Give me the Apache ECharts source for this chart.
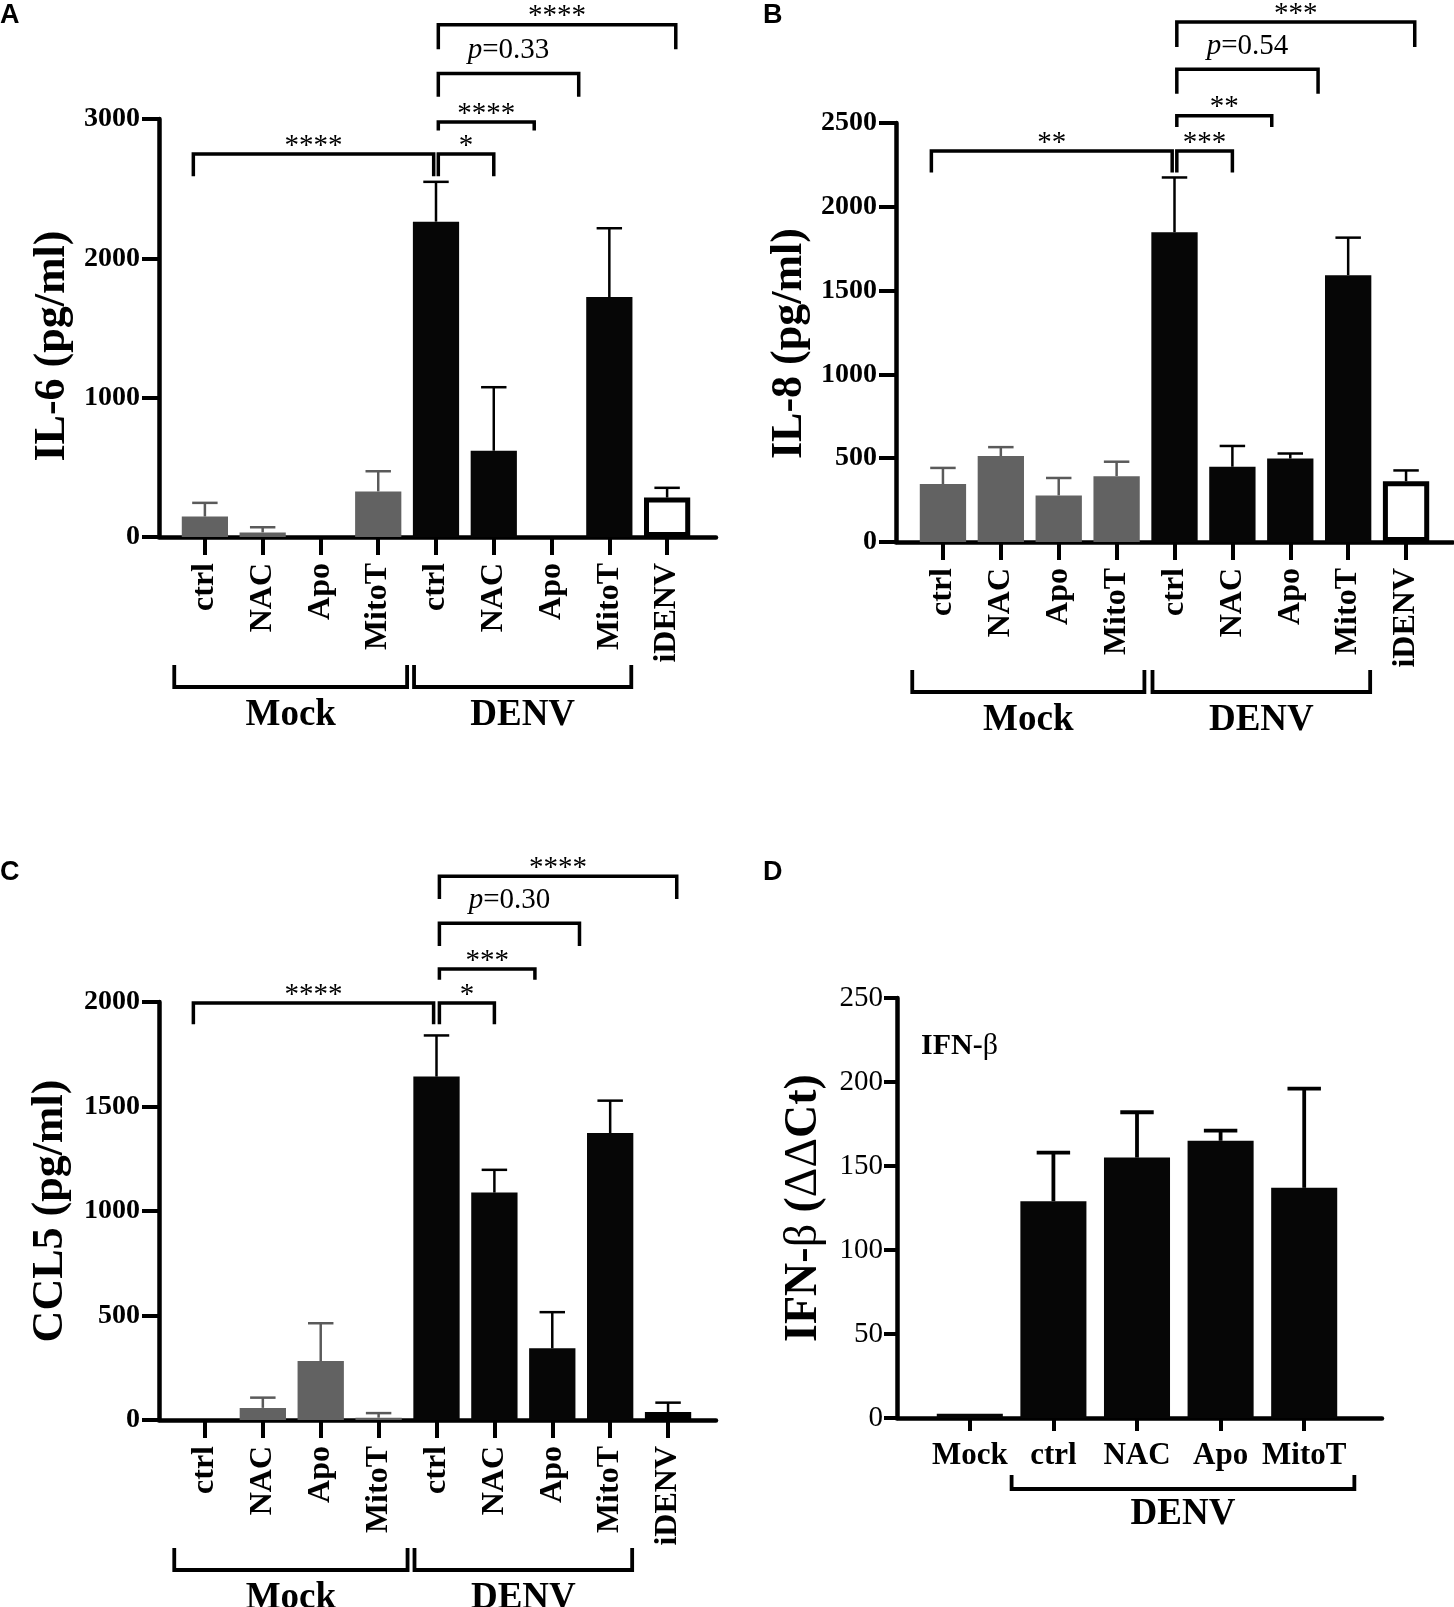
<!DOCTYPE html>
<html>
<head>
<meta charset="utf-8">
<title>Cytokine secretion, DENV infection and ROS inhibitors</title>
<script src="https://cdn.jsdelivr.net/npm/echarts@6/dist/echarts.min.js"></script>
<style>
html, body { margin: 0; padding: 0; background: #fff; }
#chart { width: 1454px; height: 1607px; }
</style>
</head>
<body>
<div id="chart"></div>
<script>
// ---- data ----
var cytoCategories = ['ctrl', 'NAC', 'Apo', 'MitoT', 'ctrl', 'NAC', 'Apo', 'MitoT', 'iDENV'];
var cytoGroups = ['mock', 'mock', 'mock', 'mock', 'denv', 'denv', 'denv', 'denv', 'idenv'];

var il6Mean  = [147, 33, 0, 327, 2263, 619, 0, 1722, 283];
var il6Upper = [245, 70, 0, 472, 2549, 1075, 0, 2216, 353];

var il8Mean  = [346, 513, 278, 393, 1848, 449, 498, 1592, 363];
var il8Upper = [442, 566, 382, 479, 2175, 573, 528, 1816, 427];

var ccl5Mean  = [0, 58, 282, 11, 1643, 1088, 343, 1373, 38];
var ccl5Upper = [0, 107, 463, 33, 1840, 1197, 516, 1528, 83];

var ifnCategories = ['Mock', 'ctrl', 'NAC', 'Apo', 'MitoT'];
var ifnGroups = ['denv', 'denv', 'denv', 'denv', 'denv'];
var ifnMean  = [2.5, 129, 155, 165, 137];
var ifnUpper = [2.5, 158, 182, 171, 196];

// significance brackets: [from, to (category positions), bar level, leg end, label]
var il6Sig = [
  [-0.2, 3.96, 2749, 2590, '****'],
  [4.04, 5.0, 2749, 2590, '*'],
  [4.04, 5.7, 2979, 2918, '****'],
  [4.04, 6.47, 3326, 3159, 'p=0.33'],
  [4.04, 8.15, 3677, 3500, '****']
];
var il8Sig = [
  [-0.2, 3.96, 2333, 2205, '**'],
  [4.04, 5.0, 2333, 2205, '***'],
  [4.04, 5.68, 2543, 2476, '**'],
  [4.04, 6.48, 2820, 2675, 'p=0.54'],
  [4.04, 8.15, 3103, 2953, '***']
];
var ccl5Sig = [
  [-0.2, 3.95, 1995, 1894, '****'],
  [4.05, 5.0, 1995, 1894, '*'],
  [4.05, 5.7, 2158, 2106, '***'],
  [4.05, 6.47, 2377, 2268, 'p=0.30'],
  [4.05, 8.15, 2602, 2493, '****']
];

// treatment groups under the axis: [name, first category, last category]
var cytoSpans = [['Mock', 0, 3], ['DENV', 4, 7]];
var ifnSpans = [['DENV', 1, 4]];

// ---- style ----
var SERIF = '"Liberation Serif", "Times New Roman", serif';
var GREY = '#626262';
var GREY_ERR = '#5a5a5a';
var BLACK = '#060606';

var panels = [
  { letter: 'A', lx: 0, ly: 2,
    frame: { left: 159, top: 119, width: 557, height: 418 }, bars: { left: 176, width: 520 },
    yMax: 3000, yStep: 1000, yName: 'IL-6 (pg/ml)', nameGap: 84, nameSize: 44, nameShift: 36,
    cats: cytoCategories, groups: cytoGroups, mean: il6Mean, upper: il6Upper, sig: il6Sig,
    spans: cytoSpans, pads: [[-0.53, 0.5], [-0.38, 0.38]], rotate: true },
  { letter: 'B', lx: 763, ly: 2,
    frame: { left: 896, top: 123, width: 557, height: 419 }, bars: { left: 914, width: 521 },
    yMax: 2500, yStep: 500, yName: 'IL-8 (pg/ml)', nameGap: 84, nameSize: 44, nameShift: 22,
    cats: cytoCategories, groups: cytoGroups, mean: il8Mean, upper: il8Upper, sig: il8Sig,
    spans: cytoSpans, pads: [[-0.53, 0.48], [-0.38, 0.38]], rotate: true },
  { letter: 'C', lx: 0, ly: 859,
    frame: { left: 159, top: 1002, width: 557, height: 418 }, bars: { left: 176, width: 521 },
    yMax: 2000, yStep: 500, yName: 'CCL5 (pg/ml)', nameGap: 86, nameSize: 44, nameShift: 0,
    cats: cytoCategories, groups: cytoGroups, mean: ccl5Mean, upper: ccl5Upper, sig: ccl5Sig,
    spans: cytoSpans, pads: [[-0.53, 0.5], [-0.38, 0.38]], rotate: true },
  { letter: 'D', lx: 763, ly: 859,
    frame: { left: 897, top: 998, width: 485, height: 420 }, bars: { left: 928, width: 418 },
    yMax: 250, yStep: 50, yName: 'IFN-{r|β} ({r|ΔΔ}Ct)', nameGap: 70, nameSize: 46, nameShift: 0,
    cats: ifnCategories, groups: ifnGroups, mean: ifnMean, upper: ifnUpper, sig: [],
    spans: ifnSpans, pads: [[-0.5, 0.6]], rotate: false }
];

function barColor(g) {
  if (g === 'mock') return { color: GREY };
  if (g === 'idenv') return { color: '#fff', borderColor: '#000', borderWidth: 5 };
  return { color: BLACK };
}

var option = {
  animation: false,
  backgroundColor: '#fff',
  grid: [], xAxis: [], yAxis: [], series: [], graphic: []
};

panels.forEach(function (p) {
  var gi = option.grid.length;
  var small = !p.rotate;
  option.grid.push({ left: p.frame.left, top: p.frame.top, width: p.frame.width, height: p.frame.height });
  option.grid.push({ left: p.bars.left, top: p.frame.top, width: p.bars.width, height: p.frame.height });

  // frame: the long axis lines and the value ticks
  option.xAxis.push({
    gridIndex: gi, type: 'value', min: 0, max: 1,
    axisLine: { lineStyle: { color: '#000', width: 4.5 } },
    axisTick: { show: false }, axisLabel: { show: false }, splitLine: { show: false }
  });
  option.yAxis.push({
    gridIndex: gi, type: 'value', min: 0, max: p.yMax, interval: p.yStep,
    axisLine: { show: true, lineStyle: { color: '#000', width: 4.5 } },
    axisTick: { show: true, length: small ? 13 : 17, lineStyle: { color: '#000', width: 4 } },
    axisLabel: { color: '#000', fontFamily: SERIF, fontWeight: small ? 'normal' : 'bold',
                 fontSize: small ? 29 : 28, margin: small ? 14 : 19,
                 formatter: function (v) { return String(v); } },
    splitLine: { show: false },
    name: p.yName, nameLocation: 'middle', nameRotate: 90, nameGap: p.nameGap,
    nameTextStyle: { color: '#000', fontFamily: SERIF, fontWeight: 'bold', fontSize: p.nameSize,
                     padding: [0, p.nameShift, 0, 0],
                     rich: { r: { fontFamily: SERIF, fontWeight: 'normal', fontSize: p.nameSize, color: '#000' } } }
  });

  // bars grid: categories
  option.xAxis.push({
    gridIndex: gi + 1, type: 'category', data: p.cats,
    axisLine: { show: false },
    axisTick: { show: true, alignWithLabel: true, length: small ? 13 : 18, lineStyle: { color: '#000', width: 4 } },
    axisLabel: { interval: 0, rotate: p.rotate ? 90 : 0, color: '#000', fontFamily: SERIF,
                 fontWeight: 'bold', fontSize: p.rotate ? 32 : 31, margin: p.rotate ? 26 : 22 }
  });
  option.yAxis.push({ gridIndex: gi + 1, type: 'value', min: 0, max: p.yMax, show: false });

  var xi = option.xAxis.length - 1, yi = option.yAxis.length - 1;

  option.series.push({
    type: 'bar', xAxisIndex: xi, yAxisIndex: yi, barWidth: small ? '79%' : '80%', z: 2,
    data: p.mean.map(function (v, i) { return { value: v, itemStyle: barColor(p.groups[i]) }; })
  });

  // error bars (upper SD only)
  var cap = small ? 0.2 : 0.22, elw = small ? 3.8 : 2.5;
  option.series.push({
    type: 'custom', xAxisIndex: xi, yAxisIndex: yi, clip: false, silent: true, z: 3,
    data: p.mean.map(function (v, i) { return [i, v, p.upper[i]]; }),
    encode: { x: 0, y: [1, 2] },
    renderItem: function (params, api) {
      var i = api.value(0), lo = api.value(1), hi = api.value(2);
      if (!(hi > lo)) return null;
      var a = api.coord([i, lo]), b = api.coord([i, hi]);
      var hw = api.size([1, 0])[0] * cap;
      var col = p.groups[i] === 'mock' ? GREY_ERR : '#000';
      return { type: 'group', children: [
        { type: 'line', shape: { x1: a[0], y1: a[1], x2: b[0], y2: b[1] }, style: { stroke: col, lineWidth: elw } },
        { type: 'line', shape: { x1: b[0] - hw, y1: b[1], x2: b[0] + hw, y2: b[1] }, style: { stroke: col, lineWidth: elw } }
      ] };
    }
  });

  // significance brackets
  if (p.sig.length) {
    option.series.push({
      type: 'custom', xAxisIndex: xi, yAxisIndex: yi, clip: false, silent: true, z: 4,
      data: p.sig.map(function (r) { return [0, r[2]]; }),
      encode: { x: 0, y: 1 },
      renderItem: function (params, api) {
        var r = p.sig[params.dataIndex];
        var bw = api.size([1, 0])[0];
        var x0 = api.coord([0, 0])[0];
        var xa = x0 + r[0] * bw, xb = x0 + r[1] * bw;
        var yl = api.coord([0, r[2]])[1], yg = api.coord([0, r[3]])[1];
        var isP = r[4].charAt(0) === 'p';
        var txt = isP ? '{i|p}' + r[4].slice(1) : r[4];
        return { type: 'group', children: [
          { type: 'polyline', shape: { points: [[xa, yg], [xa, yl], [xb, yl], [xb, yg]] },
            style: { stroke: '#000', lineWidth: 3.5, fill: 'none' } },
          { type: 'text', x: (xa + xb) / 2, y: yl - (isP ? 23 : 8),
            style: { text: txt, fill: '#000', font: '29px ' + SERIF,
                     textAlign: 'center', textVerticalAlign: 'middle', align: 'center', verticalAlign: 'middle',
                     rich: { i: { fontStyle: 'italic', fontSize: 29, fontFamily: SERIF, fill: '#000' } } } }
        ] };
      }
    });
  }

  // treatment group brackets below the labels
  var off = small ? { line: 71, leg: 57, text: 96, font: 37 } : { line: 150, leg: 128, text: 178, font: 37 };
  option.series.push({
    type: 'custom', xAxisIndex: xi, yAxisIndex: yi, clip: false, silent: true, z: 4,
    data: p.spans.map(function (s) { return [s[1], 0]; }),
    encode: { x: 0, y: 1 },
    renderItem: function (params, api) {
      var s = p.spans[params.dataIndex], pad = p.pads[params.dataIndex];
      var bw = api.size([1, 0])[0];
      var base = api.coord([0, 0]);
      var xa = base[0] + (s[1] + pad[0]) * bw, xb = base[0] + (s[2] + pad[1]) * bw;
      var y = base[1];
      return { type: 'group', children: [
        { type: 'polyline', shape: { points: [[xa, y + off.leg], [xa, y + off.line], [xb, y + off.line], [xb, y + off.leg]] },
          style: { stroke: '#000', lineWidth: 3.8, fill: 'none' } },
        { type: 'text', x: (xa + xb) / 2, y: y + off.text,
          style: { text: s[0], fill: '#000', font: 'bold ' + off.font + 'px ' + SERIF,
                   textAlign: 'center', textVerticalAlign: 'middle', align: 'center', verticalAlign: 'middle' } }
      ] };
    }
  });

  option.graphic.push({ type: 'text', left: p.lx, top: p.ly,
    style: { text: p.letter, fill: '#000', font: 'bold 27px "Liberation Sans", Arial, sans-serif' } });
});

// gene label inside panel D
option.graphic.push({ type: 'text', left: 921, top: 1031,
  style: { text: 'IFN-{r|β}', fill: '#000', font: 'bold 30px ' + SERIF,
           rich: { r: { fontFamily: SERIF, fontWeight: 'normal', fontSize: 30, fill: '#000' } } } });

var chart = echarts.init(document.getElementById('chart'));
chart.setOption(option);
</script>
</body>
</html>
